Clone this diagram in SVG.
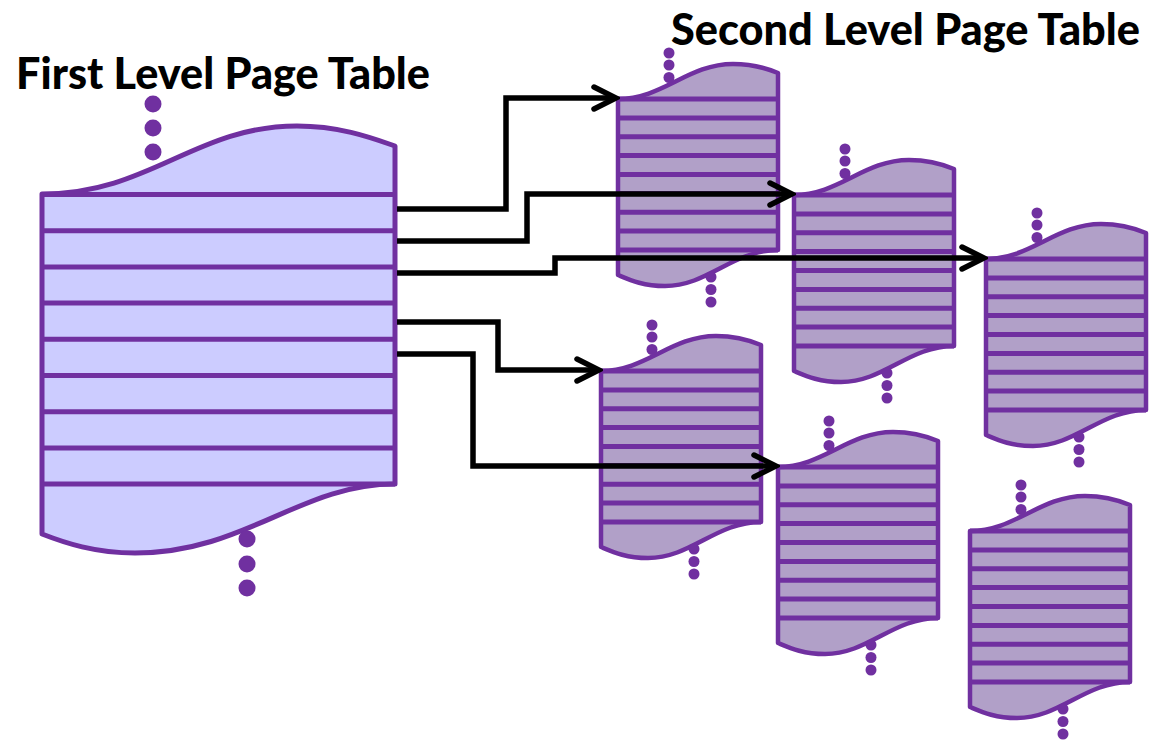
<svg xmlns="http://www.w3.org/2000/svg" xmlns:xlink="http://www.w3.org/1999/xlink" width="1151" height="742" viewBox="0 0 1151 742">
<style>
.title{font-family:Lato,"Liberation Sans",sans-serif;font-weight:900;font-size:44px;fill:#000}
.l1{fill:#CCCCFF;stroke:#7030A0;stroke-width:5;stroke-linejoin:round}
.l1row{stroke:#7030A0;stroke-width:5}
.l2{fill:#B1A0C8;stroke:#7030A0;stroke-width:4.5;stroke-linejoin:round}
.l2row{stroke:#7030A0;stroke-width:5}
.dot{fill:#7030A0}
.conn{fill:none;stroke:#000;stroke-width:5.5;stroke-linejoin:miter}
</style>
<defs>
<marker id="chev" markerUnits="userSpaceOnUse" viewBox="-30 -16 34 32" refX="0" refY="0" markerWidth="34" markerHeight="32" orient="auto">
<path d="M-22,-11 L0,0 L-22,11" fill="none" stroke="#000" stroke-width="5.5" stroke-linecap="round" stroke-linejoin="miter"/>
</marker>
<g id="sl">
<path class="l2" d="M0,0 C45,0 70,-35 115,-35 C135,-35 148,-31 160,-26 L160,151 C115,151 90,187 47,187 C25,187 12,181 0,176 Z"/>
<path class="l2row" d="M0,0H160M0,18.9H160M0,37.8H160M0,56.6H160M0,75.5H160M0,94.4H160M0,113.3H160M0,132.1H160M0,151H160"/>
<circle class="dot" cx="51" cy="-46" r="5.5"/>
<circle class="dot" cx="51" cy="-34" r="5.5"/>
<circle class="dot" cx="51" cy="-21.5" r="5.5"/>
<circle class="dot" cx="93" cy="178" r="5.5"/>
<circle class="dot" cx="93" cy="190.5" r="5.5"/>
<circle class="dot" cx="93" cy="203" r="5.5"/>
</g>
</defs>

<text class="title" x="16" y="89" textLength="414" lengthAdjust="spacingAndGlyphs">First Level Page Table</text>
<text class="title" x="671" y="45" textLength="469" lengthAdjust="spacingAndGlyphs">Second Level Page Table</text>

<g id="first-level-table">
<path class="l1" d="M42,194 C150,194 195,126 297,126 C340,126 372,138 395,146 L395,484 C300,484 245,553 135,553 C95,553 65,543 42,534 Z"/>
<path class="l1row" d="M42,194.5H395M42,230.7H395M42,266.9H395M42,303.1H395M42,339.3H395M42,375.5H395M42,411.7H395M42,447.9H395M42,484.1H395"/>
<circle class="dot" cx="153" cy="104" r="8.5"/>
<circle class="dot" cx="153" cy="128" r="8.5"/>
<circle class="dot" cx="153" cy="152" r="8.5"/>
<circle class="dot" cx="247" cy="539" r="8.5"/>
<circle class="dot" cx="247" cy="564" r="8.5"/>
<circle class="dot" cx="247" cy="588" r="8.5"/>
</g>

<g id="second-level-a"><use xlink:href="#sl" transform="translate(618,99)"/></g>
<g id="second-level-b"><use xlink:href="#sl" transform="translate(794,195)"/></g>
<g id="second-level-c"><use xlink:href="#sl" transform="translate(986,259)"/></g>
<g id="second-level-d"><use xlink:href="#sl" transform="translate(601,371)"/></g>
<g id="second-level-e"><use xlink:href="#sl" transform="translate(778,467)"/></g>
<g id="second-level-f"><use xlink:href="#sl" transform="translate(970,531)"/></g>

<g id="connectors">
<path class="conn" marker-end="url(#chev)" d="M397,209 H506 V98 H616"/>
<path class="conn" marker-end="url(#chev)" d="M397,241 H527 V194 H792"/>
<path class="conn" marker-end="url(#chev)" d="M397,273 H555 V258 H984"/>
<path class="conn" marker-end="url(#chev)" d="M397,322 H498 V370 H599"/>
<path class="conn" marker-end="url(#chev)" d="M397,354 H473 V466 H776"/>
</g>
</svg>
